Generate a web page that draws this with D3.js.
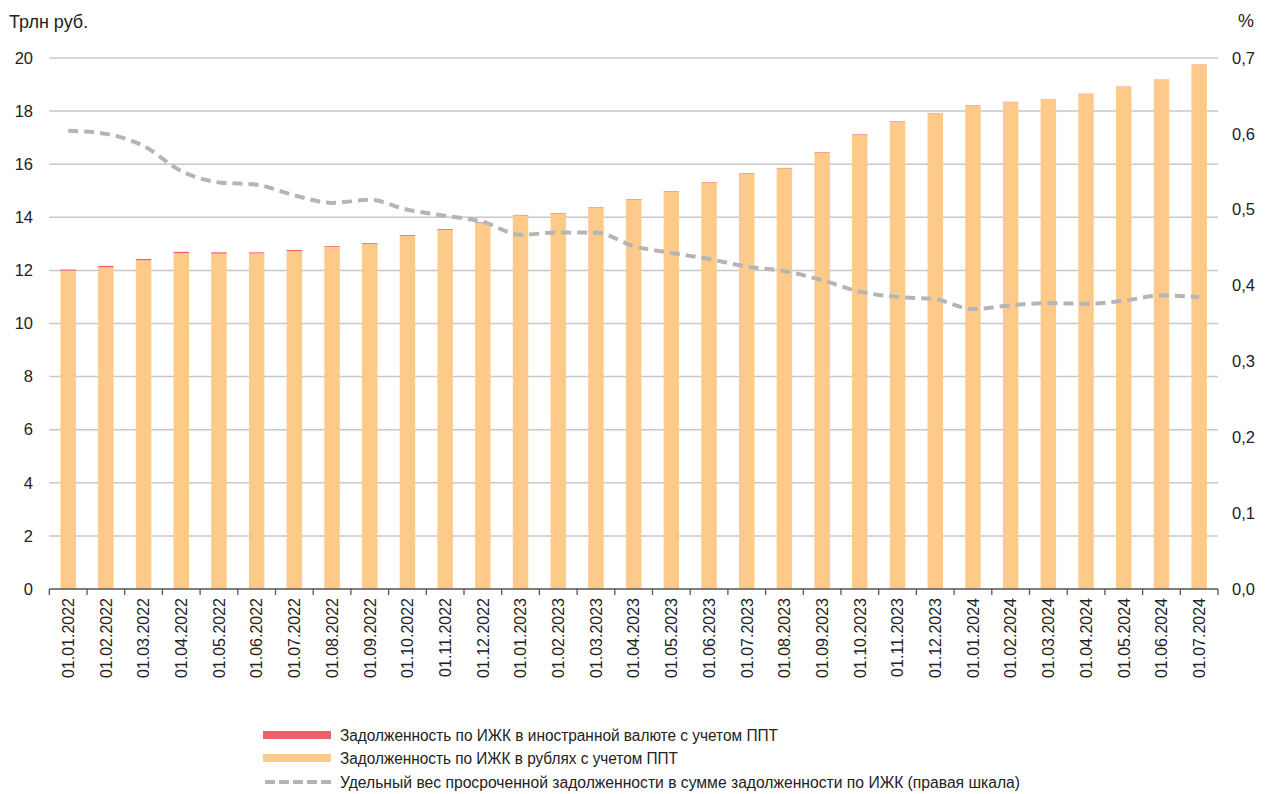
<!DOCTYPE html>
<html><head><meta charset="utf-8">
<script src="https://cdn.jsdelivr.net/npm/d3@7/dist/d3.min.js"></script>
<style>
html,body{margin:0;padding:0;background:#fff;}
svg{display:block;}
text{font-family:"Liberation Sans",Arial,sans-serif;fill:#222;}
</style></head>
<body>
<svg id="chart" width="1265" height="794"></svg>
<script>
const categories = ["01.01.2022","01.02.2022","01.03.2022","01.04.2022","01.05.2022","01.06.2022","01.07.2022","01.08.2022","01.09.2022","01.10.2022","01.11.2022","01.12.2022",
"01.01.2023","01.02.2023","01.03.2023","01.04.2023","01.05.2023","01.06.2023","01.07.2023","01.08.2023","01.09.2023","01.10.2023","01.11.2023","01.12.2023",
"01.01.2024","01.02.2024","01.03.2024","01.04.2024","01.05.2024","01.06.2024","01.07.2024"];
// Debt in foreign currency incl. PPT, trln rub
const foreignDebt = [0.04,0.05,0.05,0.05,0.05,0.04,0.04,0.03,0.03,0.03,0.03,0.02,0.02,0.02,0.02,0.02,0.02,0.02,0.02,0.02,0.02,0.02,0.02,0.01,0.01,0.01,0.01,0.01,0.01,0.01,0.01];
// Debt in rubles incl. PPT, trln rub
const rubleDebt = [11.99,12.12,12.38,12.65,12.63,12.64,12.73,12.89,13.00,13.30,13.53,13.80,14.07,14.14,14.36,14.67,14.97,15.31,15.65,15.84,16.44,17.11,17.59,17.92,18.22,18.34,18.44,18.65,18.92,19.18,19.75];
// Share of overdue debt, % (right axis)
const overdueShare = [0.604,0.600,0.584,0.551,0.536,0.533,0.519,0.509,0.513,0.500,0.492,0.484,0.467,0.470,0.470,0.452,0.443,0.435,0.425,0.419,0.407,0.392,0.385,0.382,0.369,0.374,0.377,0.376,0.380,0.387,0.385];
const leftTicks = [0,2,4,6,8,10,12,14,16,18,20];
const rightTicks = [0,0.1,0.2,0.3,0.4,0.5,0.6,0.7];
const legendLabels = ["Задолженность по ИЖК в иностранной валюте с учетом ППТ","Задолженность по ИЖК в рублях с учетом ППТ","Удельный вес просроченной задолженности в сумме задолженности по ИЖК (правая шкала)"];

const colRub = "#fdca89", colFx = "#f0606a", colLine = "#b5b5b5";
const svg = d3.select("#chart");
const L = 49.3, R = 1218, T = 58, B = 589;

const x = d3.scaleBand().domain(categories).range([L, R]).paddingInner(0.59).paddingOuter(0.295);
const y = d3.scaleLinear().domain([0, 20]).range([B, T]);
const y2 = d3.scaleLinear().domain([0, 0.7]).range([B, T]);

// gridlines
svg.append("g").selectAll("line").data(leftTicks.filter(d => d > 0)).join("line")
  .attr("x1", L).attr("x2", R).attr("y1", d => y(d)).attr("y2", d => y(d))
  .attr("stroke", "#c8c8c8").attr("stroke-width", 1.5);

// bars
const bars = svg.append("g");
categories.forEach((c, i) => {
  bars.append("rect").attr("x", x(c)).attr("width", x.bandwidth())
    .attr("y", y(rubleDebt[i])).attr("height", y(0) - y(rubleDebt[i])).attr("fill", colRub);
  bars.append("rect").attr("x", x(c)).attr("width", x.bandwidth())
    .attr("y", y(rubleDebt[i] + foreignDebt[i])).attr("height", y(rubleDebt[i]) - y(rubleDebt[i] + foreignDebt[i])).attr("fill", colFx);
});

// line
const line = d3.line().x((d, i) => x(categories[i]) + x.bandwidth() / 2).y(d => y2(d)).curve(d3.curveMonotoneX);
svg.append("path").datum(overdueShare).attr("d", line).attr("fill", "none")
  .attr("stroke", colLine).attr("stroke-width", 4).attr("stroke-dasharray", "10,6");

// x axis
svg.append("line").attr("x1", L).attr("x2", R).attr("y1", B).attr("y2", B).attr("stroke", "#555").attr("stroke-width", 1.3);
const step = x.step();
const tickXs = d3.range(categories.length + 1).map(i => L + i * step);
svg.append("g").selectAll("line").data(tickXs).join("line")
  .attr("x1", d => d).attr("x2", d => d).attr("y1", B).attr("y2", B + 6).attr("stroke", "#555").attr("stroke-width", 1.3);
svg.append("g").selectAll("text").data(categories).join("text")
  .attr("transform", d => `translate(${x(d) + x.bandwidth() / 2},598) rotate(-90)`)
  .attr("text-anchor", "end").attr("dy", "0.36em").attr("font-size", 16).text(d => d);

// left axis labels
svg.append("g").selectAll("text").data(leftTicks).join("text")
  .attr("x", 33).attr("y", d => y(d)).attr("dy", "0.35em").attr("text-anchor", "end")
  .attr("font-size", 16.5).text(d => d);
// right axis labels
const fmt = d => d3.format(".1f")(d).replace(".", ",");
svg.append("g").selectAll("text").data(rightTicks).join("text")
  .attr("x", 1232).attr("y", d => y2(d)).attr("dy", "0.35em").attr("text-anchor", "start")
  .attr("font-size", 16.5).text(fmt);

svg.append("text").attr("x", 9).attr("y", 28).attr("font-size", 18).text("Трлн руб.");
svg.append("text").attr("x", 1238).attr("y", 27).attr("font-size", 18).text("%");

// legend
const lg = svg.append("g");
const ly = [735, 758, 782];
lg.append("rect").attr("x", 263).attr("y", ly[0] - 4).attr("width", 68).attr("height", 8).attr("fill", colFx);
lg.append("rect").attr("x", 263).attr("y", ly[1] - 4).attr("width", 68).attr("height", 8).attr("fill", colRub);
lg.append("line").attr("x1", 265).attr("x2", 331).attr("y1", ly[2]).attr("y2", ly[2])
  .attr("stroke", colLine).attr("stroke-width", 4).attr("stroke-dasharray", "10,4");
const lens = [438, 338, 680];
legendLabels.forEach((t, i) => {
  lg.append("text").attr("x", 340).attr("y", ly[i]).attr("dy", "0.36em").attr("font-size", 16)
    .attr("textLength", lens[i]).attr("lengthAdjust", "spacingAndGlyphs").text(t);
});
</script>
</body></html>
